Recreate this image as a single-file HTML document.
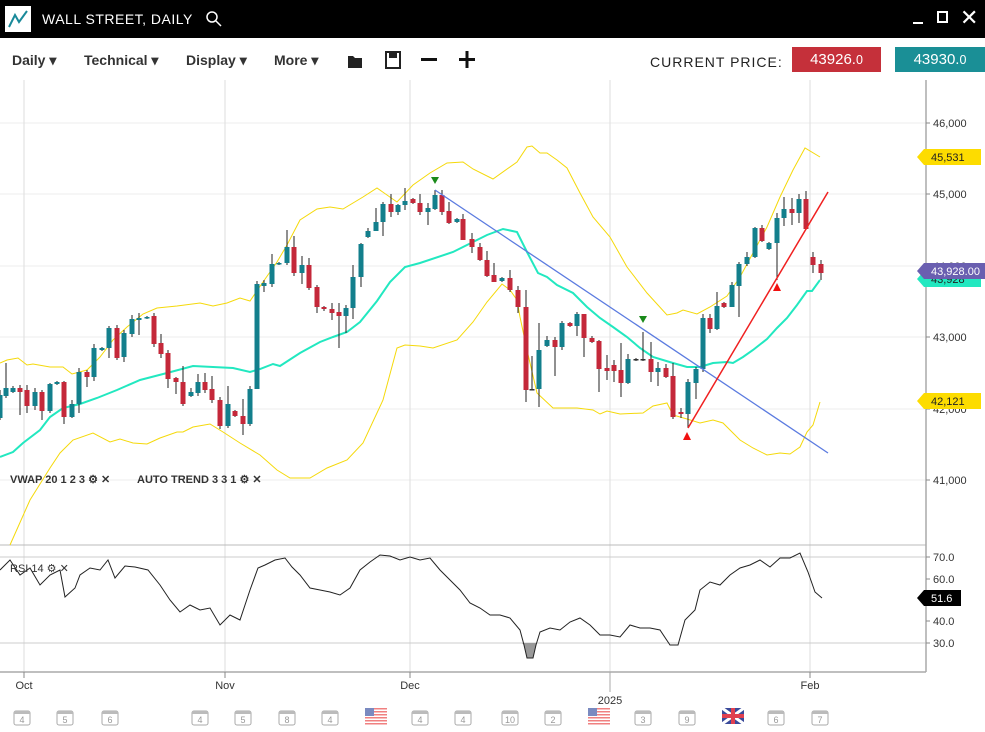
<!DOCTYPE html><html><head><meta charset="utf-8"><style>
body{margin:0;width:985px;height:732px;overflow:hidden;background:#fff;font-family:"Liberation Sans",sans-serif;position:relative}
.top{position:absolute;left:0;top:0;width:985px;height:38px;background:#000;color:#fff}
.tb{position:absolute;top:52px;font-size:14px;font-weight:bold;color:#333}
svg text{font-family:"Liberation Sans",sans-serif}
</style></head><body>
<div class="top">
<div style="position:absolute;left:5px;top:6px;width:26px;height:26px;background:#fff"><svg width="26" height="26"><polyline points="4,21 10,9 14,16 22,5" fill="none" stroke="#1a8a9a" stroke-width="2"/></svg></div>
<div style="position:absolute;left:42px;top:11px;font-size:14px;letter-spacing:0.5px">WALL STREET, DAILY</div>
<svg style="position:absolute;left:205px;top:10px" width="18" height="18"><circle cx="7" cy="7" r="5" fill="none" stroke="#fff" stroke-width="1.5"/><line x1="11" y1="11" x2="16" y2="16" stroke="#fff" stroke-width="1.5"/></svg>
<div style="position:absolute;left:913px;top:22px;width:10px;height:2px;background:#fff"></div>
<div style="position:absolute;left:937px;top:11px;width:11px;height:12px;border:2px solid #fff;box-sizing:border-box"></div>
<div style="position:absolute;left:960px;top:5px;font-size:22px">✕</div>
</div>
<div class="tb" style="left:12px">Daily ▾</div>
<div class="tb" style="left:84px">Technical ▾</div>
<div class="tb" style="left:186px">Display ▾</div>
<div class="tb" style="left:274px">More ▾</div>
<svg style="position:absolute;left:345px;top:48px" width="140" height="24"><path d="M3,8h5l2,2h7v10H3z" fill="#222"/><rect x="41" y="4" width="14" height="16" fill="none" stroke="#222" stroke-width="2"/><rect x="44" y="5" width="8" height="5" fill="#222"/><rect x="76" y="10" width="16" height="3" fill="#111"/><rect x="114" y="10" width="16" height="3" fill="#111"/><rect x="120.5" y="3" width="3" height="17" fill="#111"/></svg>
<div style="position:absolute;left:650px;top:54px;font-size:14px;color:#222;letter-spacing:1px">CURRENT PRICE:</div>
<div style="position:absolute;left:792px;top:47px;width:89px;height:25px;background:#c5303a;color:#fff;font-size:15px;line-height:25px;text-align:center">43926.<small>0</small></div>
<div style="position:absolute;left:895px;top:47px;width:90px;height:25px;background:#1a8f96;color:#fff;font-size:15px;line-height:25px;text-align:center">43930.<small>0</small></div>
<svg id="c" style="position:absolute;left:0;top:0" width="985" height="732"></svg>
<script>
var s='';
function L(x1,y1,x2,y2,c,w){s+='<line x1="'+x1+'" y1="'+y1+'" x2="'+x2+'" y2="'+y2+'" stroke="'+c+'" stroke-width="'+(w||1)+'"/>';}
function T(x,y,t,o){s+='<text x="'+x+'" y="'+y+'" '+(o||'font-size="11" fill="#333"')+'>'+t+'</text>';}
function P(p,c,w){s+='<polyline points="'+p+'" fill="none" stroke="'+c+'" stroke-width="'+(w||1)+'"/>';}
[123,194,266,337,409,480].forEach(function(y){L(0,y,926,y,'#eee');});
[24,225,410,610,810].forEach(function(x){L(x,80,x,672,'#ddd');});
L(0,545,926,545,'#bbb');L(0,557,926,557,'#ccc');L(0,643,926,643,'#ccc');
L(926,80,926,672,'#aaa',1.5);L(0,672,926,672,'#aaa',1.5);
var ax=[[123,'46,000'],[194,'45,000'],[266,'44,000'],[337,'43,000'],[409,'42,000'],[480,'41,000']];
ax.forEach(function(a){L(926,a[0],930,a[0],'#888');T(933,a[0]+4,a[1]);});
[[557,'70.0'],[579,'60.0'],[600,'50.0'],[621,'40.0'],[643,'30.0']].forEach(function(a){L(926,a[0],930,a[0],'#888');T(933,a[0]+4,a[1]);});
// bands
P('0,363 7,360 18,358 27,365 33,364 50,367 63,367 72,374 87,370 100,357 113,340 127,327 143,314 157,308 177,306 200,303 213,306 227,303 240,298 250,301 263,282 277,262 287,245 300,220 317,209 330,207 343,209 363,197 377,188 397,202 413,185 430,173 447,163 463,162 473,169 493,179 517,162 527,147 532,146 540,153 547,153 557,160 567,168 580,193 593,217 610,237 627,267 647,293 667,315 677,313 683,310 697,314 710,307 727,296 740,277 753,253 767,227 780,197 793,170 805,148 820,157','#f5d90a');
P('10,545 30,500 50,468 60,453 73,440 93,433 110,442 120,439 133,443 147,444 160,438 177,432 183,432 193,427 210,424 223,432 240,443 260,455 277,470 290,478 310,478 327,468 347,460 363,443 383,400 397,348 405,345 420,346 433,348 457,340 473,322 487,302 502,284 510,290 517,300 520,317 527,350 537,393 553,408 577,408 593,410 600,414 607,411 620,414 643,413 653,406 667,403 673,415 687,419 700,423 713,420 723,423 740,440 753,448 767,455 780,453 790,454 800,447 807,432 813,425 820,402','#f5d90a');
P('0,457 13,452 23,443 40,430 50,417 63,408 80,404 97,398 117,390 140,380 167,373 193,366 213,367 233,368 250,372 260,369 273,364 280,366 300,353 320,342 333,337 347,332 360,322 377,301 390,282 405,267 420,263 453,252 467,245 487,235 503,229 517,232 527,252 538,273 547,277 557,285 573,293 587,307 600,318 613,327 627,337 640,348 653,357 673,363 687,367 700,367 713,363 727,362 733,363 743,357 753,350 767,339 777,328 787,318 797,305 807,291 812,291 820,280','#22e8c0',2);
var C=[[0,395,418,390,420,1],[6,388,396,363,398,1],[13,388,392,386,393,1],[20,388,392,385,415,0],[27,390,406,385,413,0],[35,392,406,388,410,1],[42,392,411,390,420,0],[50,384,411,383,413,1],[57,382,384,381,385,1],[64,382,417,381,424,0],[72,404,417,400,418,1],[79,372,404,368,413,1],[87,372,377,370,387,0],[94,348,377,344,381,1],[102,348,350,347,351,1],[109,328,348,326,358,1],[117,328,358,325,360,0],[124,333,357,330,362,1],[132,319,334,315,337,1],[139,318,320,313,335,1],[147,317,318,316,319,1],[154,316,344,313,347,0],[161,343,354,334,358,0],[168,353,379,350,388,0],[176,378,382,377,394,0],[183,382,404,366,406,0],[191,392,396,388,397,1],[198,382,393,374,396,1],[205,382,390,373,393,0],[212,389,400,376,403,0],[220,400,426,397,429,0],[228,404,426,386,428,1],[235,411,416,410,417,0],[243,416,424,399,435,0],[250,389,424,386,426,1],[257,284,389,281,389,1],[264,283,286,280,292,1],[272,264,284,254,287,1],[279,263,264,262,265,1],[287,247,263,230,265,1],[294,247,273,236,276,0],[302,265,273,256,284,1],[309,265,288,258,290,0],[317,287,307,285,313,0],[324,307,309,306,311,0],[332,309,313,303,320,0],[339,312,316,303,348,0],[346,308,316,305,333,1],[353,277,308,265,319,1],[361,244,277,243,287,1],[368,231,237,228,238,1],[376,222,231,208,231,1],[383,204,222,202,236,1],[391,204,212,194,217,0],[398,205,212,204,215,1],[405,201,205,188,210,1],[413,199,203,198,204,0],[420,203,212,194,215,0],[428,208,212,203,225,1],[435,195,209,190,210,1],[442,195,212,190,215,0],[449,211,223,202,224,0],[457,219,222,218,223,1],[463,219,240,214,240,0],[472,239,247,233,253,0],[480,247,260,243,261,0],[487,260,276,251,277,0],[494,275,282,263,282,0],[502,278,281,277,282,1],[510,278,290,270,292,0],[518,290,307,286,313,0],[526,307,390,290,402,0],[532,389,390,356,390,2],[539,350,389,323,407,1],[547,340,346,336,347,1],[555,340,347,337,376,0],[562,323,347,321,350,1],[570,323,326,322,327,0],[577,314,326,312,336,1],[584,314,338,314,357,0],[592,338,342,336,343,0],[599,341,369,340,392,0],[607,368,371,355,380,0],[614,365,371,360,382,0],[621,370,383,343,397,0],[628,359,383,354,384,1],[636,359,360,358,361,2],[643,359,360,332,361,2],[651,359,372,342,382,0],[658,368,372,362,386,1],[666,368,377,364,378,0],[673,376,417,363,419,0],[681,412,414,408,418,0],[688,382,414,379,428,1],[696,369,383,367,399,1],[703,318,369,314,372,1],[710,318,329,314,333,0],[717,306,329,292,330,1],[724,303,307,302,308,0],[732,285,307,282,307,1],[739,264,286,262,317,1],[747,257,264,252,266,1],[755,228,257,227,258,1],[762,228,241,225,242,0],[769,243,249,242,250,1],[777,218,243,213,280,1],[784,209,218,197,226,1],[792,209,213,198,225,0],[799,199,213,194,223,1],[806,199,229,191,230,0],[813,257,265,252,273,0],[821,264,273,260,280,0]];
C.forEach(function(c){var col=c[5]==1?'#137f8c':c[5]==0?'#c4283a':'#333';L(c[0],c[3],c[0],c[4],'#222');s+='<rect x="'+(c[0]-2.5)+'" y="'+c[1]+'" width="5" height="'+Math.max(1.5,c[2]-c[1])+'" fill="'+col+'"/>';});
L(435,190,828,453,'#5b7be0',1.3);L(688,428,828,192,'#f02020',1.5);
s+='<polygon points="431,177 439,177 435,184" fill="#1a8a1a"/><polygon points="639,316 647,316 643,323" fill="#1a8a1a"/>';
s+='<polygon points="683,440 691,440 687,432" fill="#f01010"/><polygon points="773,291 781,291 777,283" fill="#f01010"/>';
// RSI
var r='0,570 10,560 20,575 30,568 40,585 50,575 60,570 65,597 75,588 80,575 90,568 100,570 108,560 115,578 125,566 135,567 148,570 160,585 170,600 180,612 190,605 200,610 210,608 220,625 230,615 240,620 250,590 258,568 265,565 275,560 285,558 292,567 300,575 310,588 320,590 330,592 340,595 350,588 360,570 370,562 380,555 390,556 400,560 410,557 420,560 430,558 440,570 450,580 460,590 470,603 480,608 490,615 500,615 510,618 520,630 524,645 527,658 533,658 536,645 540,632 550,628 560,630 570,622 580,618 590,625 600,635 610,635 620,637 630,625 640,628 650,628 660,630 670,645 678,645 685,620 695,610 700,590 710,582 720,585 730,575 740,568 750,565 760,560 770,567 780,558 790,558 800,553 808,572 815,592 822,598';
s+='<polygon points="522,643 524,645 527,658 533,658 536,645 537,643" fill="#999"/>';
P(r,'#222',1);
// labels
function tag(y,txt,bg,fg,w){s+='<polygon points="917,'+y+' 924,'+(y-8)+' '+(917+w)+','+(y-8)+' '+(917+w)+','+(y+8)+' 924,'+(y+8)+'" fill="'+bg+'"/>';T(931,y+4,txt,'font-size="11" fill="'+fg+'"');}
tag(157,'45,531','#fddc00','#222',64);tag(401,'42,121','#fddc00','#222',64);
tag(279,'43,928','#22e8c0','#222',64);tag(271,'43,928.00','#6a5fb0','#fff',68);tag(598,'51.6','#000','#fff',44);
T(10,483,'VWAP 20 1 2 3 ⚙ ✕','font-size="11" font-weight="bold" fill="#333"');
T(137,483,'AUTO TREND 3 3 1 ⚙ ✕','font-size="11" font-weight="bold" fill="#333"');
T(10,572,'RSI 14 ⚙ ✕','font-size="11" fill="#333"');
[[24,'Oct'],[225,'Nov'],[410,'Dec'],[810,'Feb']].forEach(function(a){L(a[0],672,a[0],678,'#888');T(a[0],689,a[1],'font-size="11" fill="#333" text-anchor="middle"');});
L(610,672,610,692,'#aaa');T(610,704,'2025','font-size="11" fill="#333" text-anchor="middle"');
[[22,'4'],[65,'5'],[110,'6'],[200,'4'],[243,'5'],[287,'8'],[330,'4'],[420,'4'],[463,'4'],[510,'10'],[553,'2'],[643,'3'],[687,'9'],[776,'6'],[820,'7']].forEach(function(a){s+='<rect x="'+(a[0]-8)+'" y="711" width="16" height="14" rx="2" fill="#fff" stroke="#aaa"/><rect x="'+(a[0]-8)+'" y="711" width="16" height="3" fill="#bbb"/>';T(a[0],723,a[1],'font-size="9" fill="#999" text-anchor="middle"');});
[376,599].forEach(function(x){for(var i=0;i<6;i++)s+='<rect x="'+(x-11)+'" y="'+(708+i*3)+'" width="22" height="1.5" fill="#f08080"/>';s+='<rect x="'+(x-11)+'" y="708" width="9" height="8" fill="#7a8ac0"/>';});
s+='<rect x="722" y="708" width="22" height="16" fill="#3a4a9a"/><line x1="722" y1="708" x2="744" y2="724" stroke="#fff" stroke-width="3"/><line x1="744" y1="708" x2="722" y2="724" stroke="#fff" stroke-width="3"/><rect x="722" y="714" width="22" height="4" fill="#e04050"/><rect x="731" y="708" width="4" height="16" fill="#e04050"/>';
document.getElementById('c').innerHTML=s;
</script>
</body></html>
